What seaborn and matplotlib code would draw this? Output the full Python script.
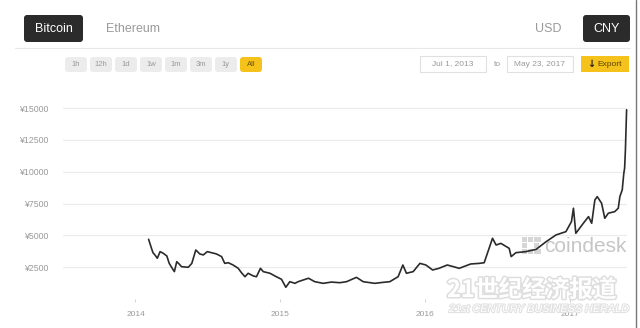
import matplotlib
matplotlib.use("Agg")
import matplotlib.pyplot as plt
import matplotlib.patheffects as pe
from matplotlib.patches import FancyBboxPatch, Rectangle
import pandas as pd
import seaborn as sns

# ---- data ----
dates = [
    "2014-02-03", "2014-02-09", "2014-02-14", "2014-02-19", "2014-02-25", "2014-03-04",
    "2014-03-12", "2014-03-21", "2014-03-27", "2014-04-02", "2014-04-09", "2014-04-15",
    "2014-04-21", "2014-04-27", "2014-05-14", "2014-05-23", "2014-06-02", "2014-06-12",
    "2014-06-21", "2014-07-01", "2014-07-24", "2014-08-06", "2014-08-14", "2014-08-23",
    "2014-09-04", "2014-09-17", "2014-09-25", "2014-10-04", "2014-10-12", "2014-10-25",
    "2014-11-02", "2014-11-12", "2014-11-19", "2014-12-06", "2014-12-22",
    "2015-01-04", "2015-01-15", "2015-01-25", "2015-02-07", "2015-02-15", "2015-03-13",
    "2015-03-29", "2015-04-19", "2015-05-10", "2015-05-31", "2015-06-17", "2015-07-12",
    "2015-07-29", "2015-08-27", "2015-09-15", "2015-10-04", "2015-10-25", "2015-11-06",
    "2015-11-15", "2015-12-02", "2015-12-19",
    "2016-01-03", "2016-01-20", "2016-02-05", "2016-02-26", "2016-03-18", "2016-03-27",
    "2016-04-25", "2016-05-17", "2016-05-29", "2016-06-19", "2016-06-28", "2016-07-10",
    "2016-07-31", "2016-08-05", "2016-08-17", "2016-09-11", "2016-10-07", "2016-11-01",
    "2016-11-26", "2016-12-21", "2017-01-04", "2017-01-09", "2017-01-15", "2017-02-03",
    "2017-02-16", "2017-02-24", "2017-03-04", "2017-03-10", "2017-03-21", "2017-03-29",
    "2017-04-07", "2017-04-23", "2017-05-02", "2017-05-06", "2017-05-12", "2017-05-16",
    "2017-05-18", "2017-05-20", "2017-05-23",
]
prices = [
    4690, 4110, 3640, 3460, 3200, 3720,
    3590, 3380, 2800, 2490, 2150, 2930,
    2750, 2540, 2490, 2800, 3850, 3540,
    3460, 3720, 3540, 3330, 2800, 2850,
    2670, 2410, 2070, 1750, 2020, 1810,
    1750, 2410, 2150, 2020, 1750,
    1550, 920, 1360, 1230, 1360, 1630,
    1360, 1230, 1330, 1280, 1360, 1700,
    1360, 1230, 1300, 1360, 1750, 2670,
    2020, 2150, 2800,
    2670, 2280, 2410, 2670, 2490, 2410,
    2750, 2800, 2850, 4770, 4240, 4370,
    3980, 3330, 3640, 3720, 3900, 4500,
    5030, 5290, 6080, 7130, 5160, 5950,
    6470, 5950, 7780, 8040, 7520, 6340,
    6740, 6860, 7130, 8040, 8570, 9880,
    10270, 11710, 14860,
]
y_ticks = [2500, 5000, 7500, 10000, 12500, 15000]
y_tick_labels = ["¥2500", "¥5000", "¥7500", "¥10000", "¥12500", "¥15000"]
x_ticks = ["2014-01-01", "2015-01-01", "2016-01-01", "2017-01-01"]
x_tick_labels = ["2014", "2015", "2016", "2017"]
range_buttons = ["1h", "12h", "1d", "1w", "1m", "3m", "1y", "All"]

df = pd.DataFrame({"date": pd.to_datetime(dates), "price": prices})

sns.set_style("white")
plt.rcParams["font.family"] = ["Liberation Sans", "DejaVu Sans"]

W, H = 640, 328
fig = plt.figure(figsize=(W / 100, H / 100), dpi=100)

# ---- background / UI layer in pixel coordinates ----
bg = fig.add_axes([0, 0, 1, 1])
bg.set_xlim(0, W)
bg.set_ylim(H, 0)
bg.axis("off")

bg.plot([15, 630], [48, 48], color="#e8e8e8", lw=0.8)
bg.plot([636, 636], [0, H], color="#777777", lw=1.0)

def button(x, y, w, h, fc, text, tc, size, ec="none", weight="normal"):
    bg.add_patch(FancyBboxPatch((x, y), w, h, boxstyle="round,pad=0,rounding_size=3",
                                fc=fc, ec=ec, lw=0.8))
    bg.text(x + w / 2, y + h / 2, text, color=tc, fontsize=size, ha="center",
            va="center", fontweight=weight)

button(24, 15, 59, 27, "#2b2b2b", "Bitcoin", "white", 9)
bg.text(133, 28.5, "Ethereum", color="#9a9a9a", fontsize=9, ha="center", va="center")
bg.text(548, 28.5, "USD", color="#9a9a9a", fontsize=9, ha="center", va="center")
button(583, 15, 47, 27, "#2b2b2b", "CNY", "white", 9)

for i, lab in enumerate(range_buttons):
    x0 = 65 + i * 25
    if lab == "All":
        button(x0, 57, 22, 15, "#f5c21b", lab, "#6b5200", 5.5)
    else:
        button(x0, 57, 22, 15, "#ececec", lab, "#999999", 5.5)

bg.add_patch(Rectangle((420, 56), 66, 16, fc="white", ec="#e0e0e0", lw=0.8))
bg.text(453, 64, "Jul 1, 2013", color="#999999", fontsize=6, ha="center", va="center")
bg.text(497, 64, "to", color="#999999", fontsize=6, ha="center", va="center")
bg.add_patch(Rectangle((507, 56), 66, 16, fc="white", ec="#e0e0e0", lw=0.8))
bg.text(540, 64, "May 23, 2017", color="#999999", fontsize=6, ha="center", va="center")
bg.add_patch(Rectangle((581, 56), 48, 16, fc="#f5c21b", ec="none"))
bg.text(591, 64, "↓", color="#222222", fontsize=7, ha="center", va="center",
        fontweight="bold", family=["DejaVu Sans"])
bg.text(597, 64, "Export", color="#5a4300", fontsize=6, ha="left", va="center")

# coindesk watermark
for (cx, cy, cw, ch) in [(522, 237, 5, 5), (528, 237, 5, 5), (534, 237, 7, 5),
                         (522, 243, 5, 5), (534, 243, 5, 5),
                         (522, 249, 5, 5), (528, 249, 5, 5), (534, 249, 7, 5)]:
    bg.add_patch(Rectangle((cx, cy), cw, ch, fc="#d6d6d6", ec="none"))
bg.text(544, 246, "coindesk", color="#c6c6c6", fontsize=15, ha="left", va="center")

# ---- chart ----
left_px, right_px, top_px, bottom_px = 62.5, 626.6, 100, 299
ax = fig.add_axes([left_px / W, 1 - bottom_px / H,
                   (right_px - left_px) / W, (bottom_px - top_px) / H])
ax.patch.set_alpha(0)
sns.lineplot(data=df, x="date", y="price", ax=ax, color="#2b2b2b", lw=1.2)
for ln in ax.get_lines():
    ln.set_clip_on(False)

ax.set_xlim(pd.Timestamp("2013-07-01"), pd.Timestamp("2017-05-23"))
ax.set_ylim(0, 15630)
ax.set_yticks(y_ticks)
ax.set_yticklabels(y_tick_labels)
ax.set_xticks(pd.to_datetime(x_ticks))
ax.set_xticklabels(x_tick_labels)
ax.set_xlabel("")
ax.set_ylabel("")
ax.grid(axis="y", color="#ebebeb", lw=0.8)
ax.grid(axis="x", visible=False)
for s in ax.spines.values():
    s.set_visible(False)
ax.tick_params(axis="y", length=0, pad=10, labelsize=6.3, labelcolor="#9a9a9a")
ax.tick_params(axis="x", length=2.5, width=0.6, color="#cccccc", pad=6,
               labelsize=6, labelcolor="#9a9a9a", bottom=True)

# ---- 21st Century watermark ----
fig.text(447 / W, 1 - 290 / H, "21世纪经济报道", color="white", fontsize=17,
         fontweight="bold", ha="left", va="center",
         family=["Noto Sans CJK SC", "DejaVu Sans"],
         path_effects=[pe.withStroke(linewidth=2.2, foreground="#dedede")])
fig.text(449 / W, 1 - 309 / H, "21st CENTURY BUSINESS HERALD", color="white",
         fontsize=7.8, style="italic", ha="left", va="center",
         path_effects=[pe.withStroke(linewidth=1.6, foreground="#e2e2e2")])

fig.savefig("out.png", dpi=100)
